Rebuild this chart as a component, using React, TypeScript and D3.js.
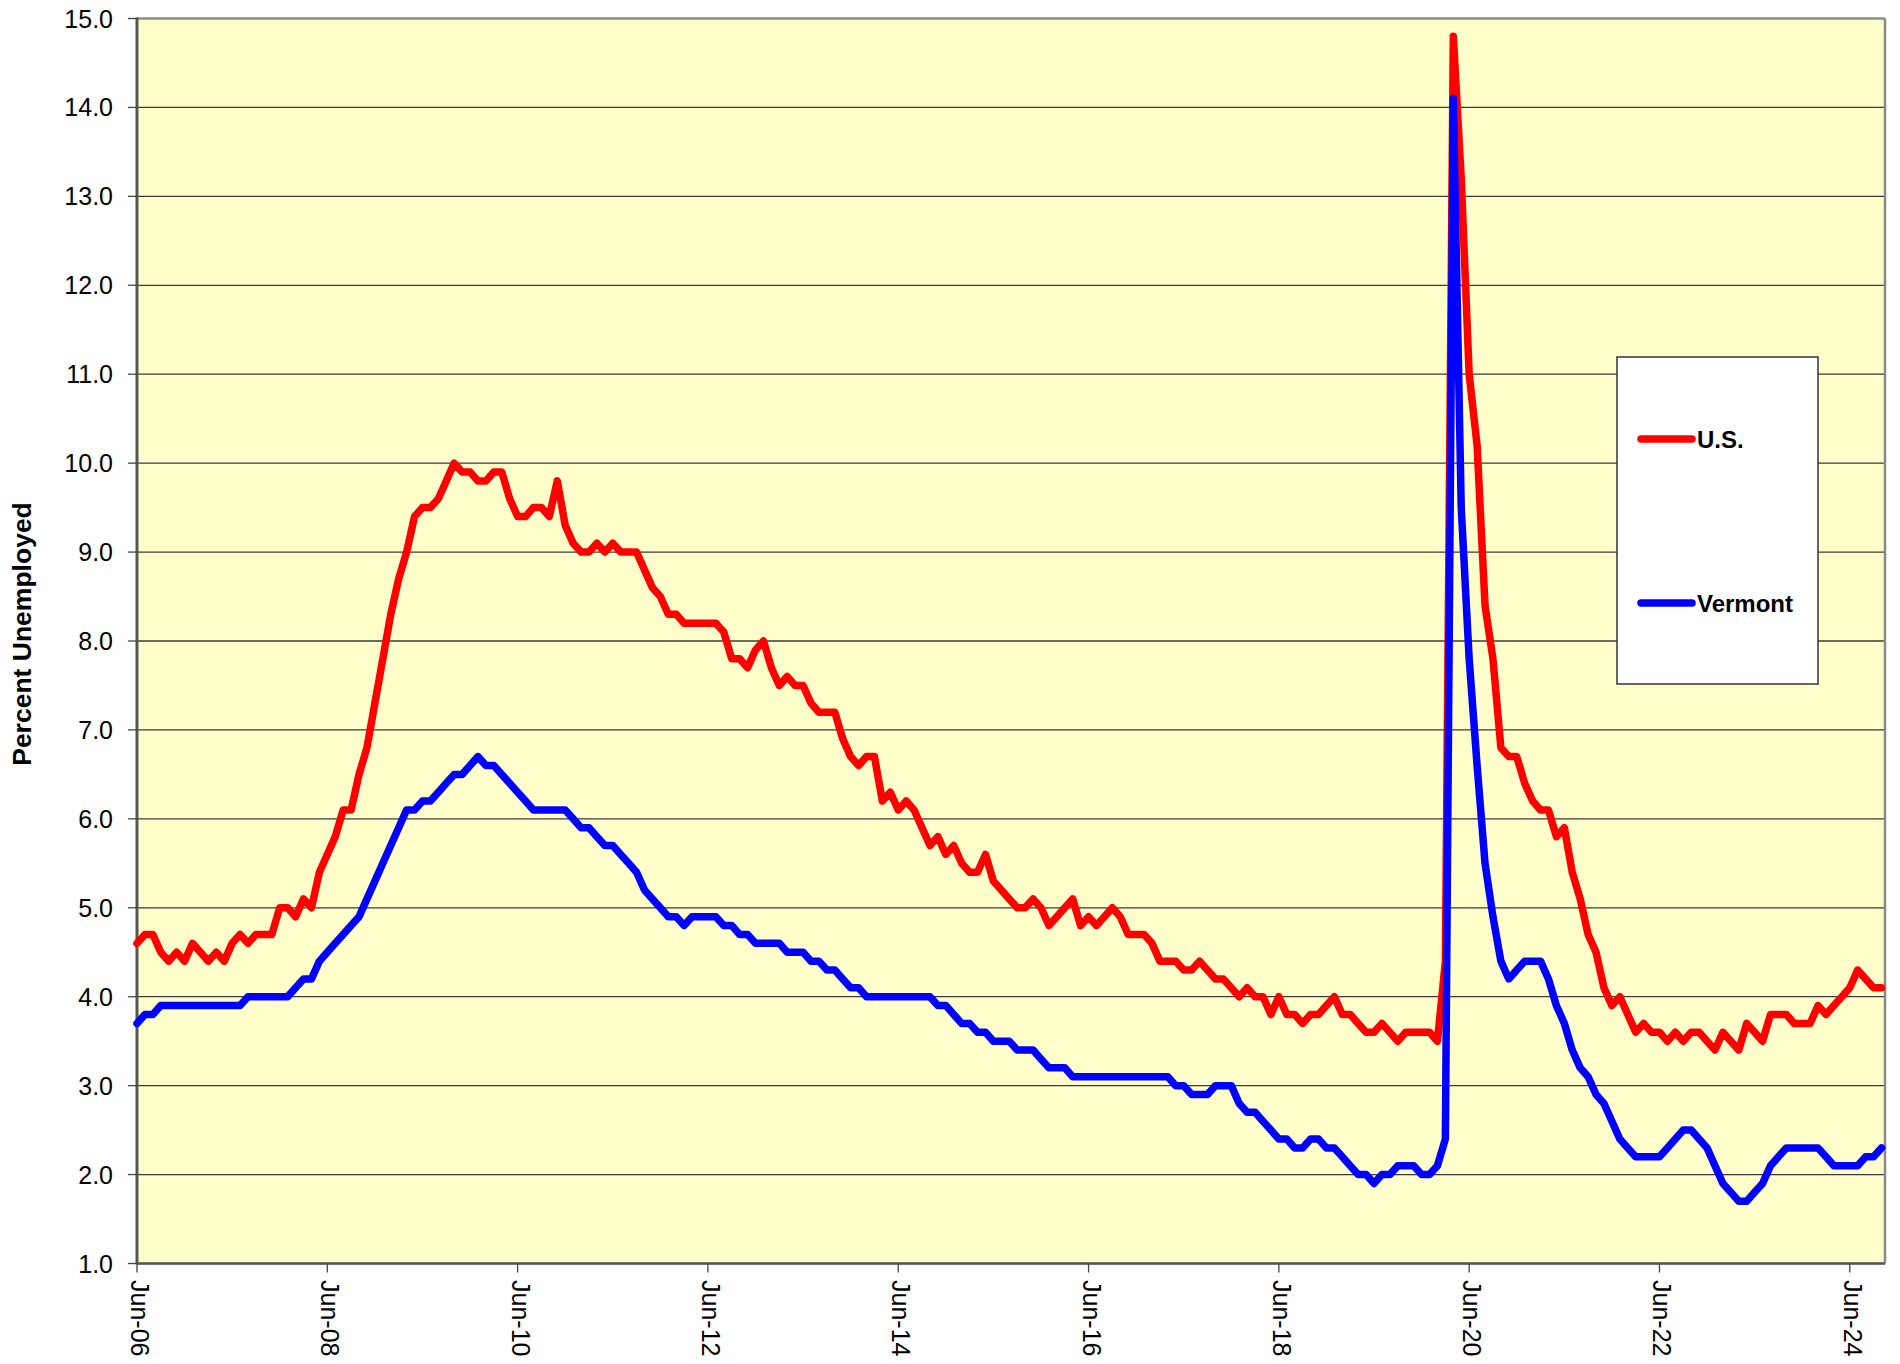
import React from "react";
import * as d3 from "d3";

// Monthly unemployment rate, Jun 2006 .. Oct 2024
const usRate: number[] = [
  4.6, 4.7, 4.7, 4.5, 4.4, 4.5, 4.4,
  4.6, 4.5, 4.4, 4.5, 4.4, 4.6, 4.7, 4.6, 4.7, 4.7, 4.7, 5.0,
  5.0, 4.9, 5.1, 5.0, 5.4, 5.6, 5.8, 6.1, 6.1, 6.5, 6.8, 7.3,
  7.8, 8.3, 8.7, 9.0, 9.4, 9.5, 9.5, 9.6, 9.8, 10.0, 9.9, 9.9,
  9.8, 9.8, 9.9, 9.9, 9.6, 9.4, 9.4, 9.5, 9.5, 9.4, 9.8, 9.3,
  9.1, 9.0, 9.0, 9.1, 9.0, 9.1, 9.0, 9.0, 9.0, 8.8, 8.6, 8.5,
  8.3, 8.3, 8.2, 8.2, 8.2, 8.2, 8.2, 8.1, 7.8, 7.8, 7.7, 7.9,
  8.0, 7.7, 7.5, 7.6, 7.5, 7.5, 7.3, 7.2, 7.2, 7.2, 6.9, 6.7,
  6.6, 6.7, 6.7, 6.2, 6.3, 6.1, 6.2, 6.1, 5.9, 5.7, 5.8, 5.6,
  5.7, 5.5, 5.4, 5.4, 5.6, 5.3, 5.2, 5.1, 5.0, 5.0, 5.1, 5.0,
  4.8, 4.9, 5.0, 5.1, 4.8, 4.9, 4.8, 4.9, 5.0, 4.9, 4.7, 4.7,
  4.7, 4.6, 4.4, 4.4, 4.4, 4.3, 4.3, 4.4, 4.3, 4.2, 4.2, 4.1,
  4.0, 4.1, 4.0, 4.0, 3.8, 4.0, 3.8, 3.8, 3.7, 3.8, 3.8, 3.9,
  4.0, 3.8, 3.8, 3.7, 3.6, 3.6, 3.7, 3.6, 3.5, 3.6, 3.6, 3.6,
  3.6, 3.5, 4.4, 14.8, 13.2, 11.0, 10.2, 8.4, 7.8, 6.8, 6.7, 6.7,
  6.4, 6.2, 6.1, 6.1, 5.8, 5.9, 5.4, 5.1, 4.7, 4.5, 4.1, 3.9,
  4.0, 3.8, 3.6, 3.7, 3.6, 3.6, 3.5, 3.6, 3.5, 3.6, 3.6, 3.5,
  3.4, 3.6, 3.5, 3.4, 3.7, 3.6, 3.5, 3.8, 3.8, 3.8, 3.7, 3.7,
  3.7, 3.9, 3.8, 3.9, 4.0, 4.1, 4.3, 4.2, 4.1, 4.1,
];

const vermontRate: number[] = [
  3.7, 3.8, 3.8, 3.9, 3.9, 3.9, 3.9,
  3.9, 3.9, 3.9, 3.9, 3.9, 3.9, 3.9, 4.0, 4.0, 4.0, 4.0, 4.0,
  4.0, 4.1, 4.2, 4.2, 4.4, 4.5, 4.6, 4.7, 4.8, 4.9, 5.1, 5.3,
  5.5, 5.7, 5.9, 6.1, 6.1, 6.2, 6.2, 6.3, 6.4, 6.5, 6.5, 6.6,
  6.7, 6.6, 6.6, 6.5, 6.4, 6.3, 6.2, 6.1, 6.1, 6.1, 6.1, 6.1,
  6.0, 5.9, 5.9, 5.8, 5.7, 5.7, 5.6, 5.5, 5.4, 5.2, 5.1, 5.0,
  4.9, 4.9, 4.8, 4.9, 4.9, 4.9, 4.9, 4.8, 4.8, 4.7, 4.7, 4.6,
  4.6, 4.6, 4.6, 4.5, 4.5, 4.5, 4.4, 4.4, 4.3, 4.3, 4.2, 4.1,
  4.1, 4.0, 4.0, 4.0, 4.0, 4.0, 4.0, 4.0, 4.0, 4.0, 3.9, 3.9,
  3.8, 3.7, 3.7, 3.6, 3.6, 3.5, 3.5, 3.5, 3.4, 3.4, 3.4, 3.3,
  3.2, 3.2, 3.2, 3.1, 3.1, 3.1, 3.1, 3.1, 3.1, 3.1, 3.1, 3.1,
  3.1, 3.1, 3.1, 3.1, 3.0, 3.0, 2.9, 2.9, 2.9, 3.0, 3.0, 3.0,
  2.8, 2.7, 2.7, 2.6, 2.5, 2.4, 2.4, 2.3, 2.3, 2.4, 2.4, 2.3,
  2.3, 2.2, 2.1, 2.0, 2.0, 1.9, 2.0, 2.0, 2.1, 2.1, 2.1, 2.0,
  2.0, 2.1, 2.4, 14.1, 9.5, 7.8, 6.6, 5.5, 4.9, 4.4, 4.2, 4.3,
  4.4, 4.4, 4.4, 4.2, 3.9, 3.7, 3.4, 3.2, 3.1, 2.9, 2.8, 2.6,
  2.4, 2.3, 2.2, 2.2, 2.2, 2.2, 2.3, 2.4, 2.5, 2.5, 2.4, 2.3,
  2.1, 1.9, 1.8, 1.7, 1.7, 1.8, 1.9, 2.1, 2.2, 2.3, 2.3, 2.3,
  2.3, 2.3, 2.2, 2.1, 2.1, 2.1, 2.1, 2.2, 2.2, 2.3,
];

const yTickValues: number[] = [1, 2, 3, 4, 5, 6, 7, 8, 9, 10, 11, 12, 13, 14, 15];
const xTickIndex: number[] = [0, 24, 48, 72, 96, 120, 144, 168, 192, 216];
const xTickLabels: string[] = ["Jun-06", "Jun-08", "Jun-10", "Jun-12", "Jun-14", "Jun-16", "Jun-18", "Jun-20", "Jun-22", "Jun-24"];
const seriesNames: string[] = ["U.S.", "Vermont"];
const seriesColors: string[] = ["#FF0000", "#0000FF"];
const yAxisTitle = "Percent Unemployed";

export default function App() {
  const W = 1900;
  const H = 1364;
  const left = 137;
  const right = 1885;
  const top = 18.5;
  const bottom = 1263.5;

  const x = d3.scaleLinear().domain([0, 220]).range([left, 1881.5]);
  const y = d3.scaleLinear().domain([1, 15]).range([bottom, top]);

  const line = d3
    .line<number>()
    .x((_, i) => x(i))
    .y((d) => y(d));

  const series = [usRate, vermontRate];
  const font = "'Liberation Sans', Arial, Helvetica, sans-serif";

  const legendX = 1617;
  const legendY = 357;
  const legendW = 201;
  const legendH = 327;
  const legendRows = [439, 603];

  return (
    <svg
      width={W}
      height={H}
      viewBox={`0 0 ${W} ${H}`}
      style={{ position: "absolute", left: 0, top: 0, background: "#ffffff" }}
    >
      <rect x={0} y={0} width={W} height={H} fill="#ffffff" />
      {/* plot area */}
      <rect x={left} y={top} width={right - left} height={bottom - top} fill="#FFFFCC" />
      {/* gridlines */}
      {yTickValues.map((v) => (
        <line
          key={"g" + v}
          x1={left}
          x2={right}
          y1={y(v)}
          y2={y(v)}
          stroke="#3a3a3a"
          strokeWidth={1.3}
        />
      ))}
      {/* borders */}
      <line x1={left} x2={right} y1={top} y2={top} stroke="#8a8a8a" strokeWidth={2} />
      <line x1={right} x2={right} y1={top} y2={bottom} stroke="#8a8a8a" strokeWidth={2.5} />
      <line x1={left} x2={right} y1={bottom} y2={bottom} stroke="#555555" strokeWidth={2.5} />
      <line x1={left} x2={left} y1={top - 1} y2={bottom + 1} stroke="#555555" strokeWidth={3} />
      {/* y ticks */}
      {yTickValues.map((v) => (
        <g key={"yt" + v}>
          <line x1={left - 9} x2={left} y1={y(v)} y2={y(v)} stroke="#444" strokeWidth={1.3} />
          <text
            x={113}
            y={y(v)}
            dy="0.36em"
            textAnchor="end"
            fontFamily={font}
            fontSize={25}
            fill="#000"
          >
            {v.toFixed(1)}
          </text>
        </g>
      ))}
      {/* x ticks */}
      {xTickIndex.map((idx, k) => (
        <g key={"xt" + idx}>
          <line x1={x(idx)} x2={x(idx)} y1={bottom} y2={bottom + 9} stroke="#444" strokeWidth={1.3} />
          <text
            transform={`translate(${x(idx)},${bottom + 16.5}) rotate(90)`}
            dy="0.24em"
            textAnchor="start"
            fontFamily={font}
            fontSize={25}
            fill="#000"
          >
            {xTickLabels[k]}
          </text>
        </g>
      ))}
      {/* y axis title */}
      <text
        transform={`translate(31,634) rotate(-90)`}
        textAnchor="middle"
        fontFamily={font}
        fontSize={26.5}
        fontWeight="bold"
        fill="#000"
      >
        {yAxisTitle}
      </text>
      {/* series */}
      {series.map((s, k) => (
        <path
          key={"s" + k}
          d={line(s) || ""}
          fill="none"
          stroke={seriesColors[k]}
          strokeWidth={7.5}
          strokeLinejoin="round"
          strokeLinecap="round"
        />
      ))}
      {/* legend */}
      <rect x={legendX} y={legendY} width={legendW} height={legendH} fill="#ffffff" stroke="#333" strokeWidth={1.5} />
      {seriesNames.map((name, k) => (
        <g key={"lg" + k}>
          <line
            x1={1641}
            x2={1692}
            y1={legendRows[k]}
            y2={legendRows[k]}
            stroke={seriesColors[k]}
            strokeWidth={7.5}
            strokeLinecap="round"
          />
          <text
            x={1697}
            y={legendRows[k]}
            dy="0.36em"
            fontFamily={font}
            fontSize={24}
            fontWeight="bold"
            fill="#000"
          >
            {name}
          </text>
        </g>
      ))}
    </svg>
  );
}
